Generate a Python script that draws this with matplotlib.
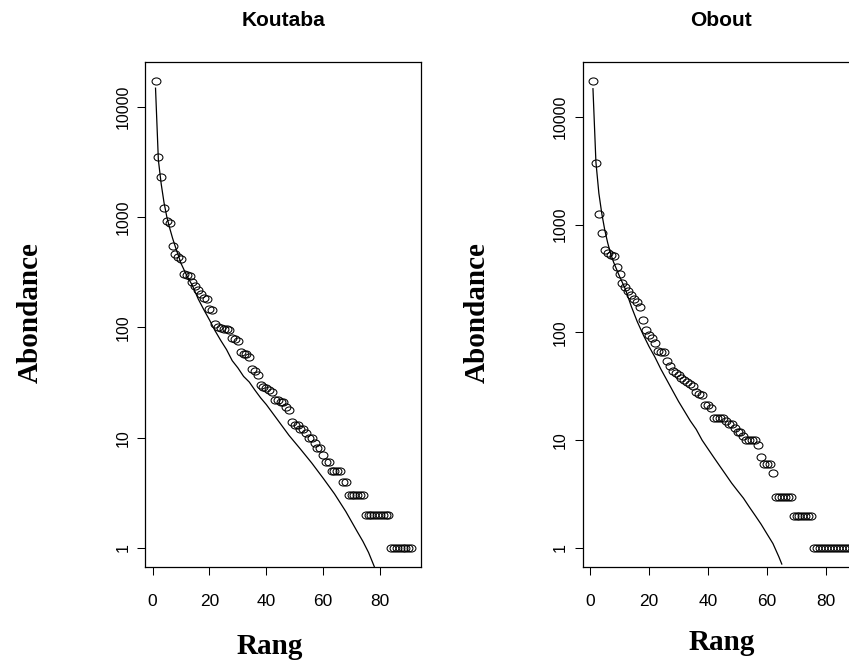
import numpy as np
import matplotlib
matplotlib.use("Agg")
import matplotlib.pyplot as plt
from matplotlib.path import Path
from matplotlib.transforms import Affine2D

koutaba_abund = [17300, 3500, 2300, 1200, 920, 880, 545, 460, 437, 420,
                 305, 300, 293, 260, 240, 218, 200, 186, 182, 148,
                 145, 107, 101, 98, 97, 96, 95, 80, 78, 76,
                 60, 58, 57, 54, 42, 40, 37, 30, 29, 28,
                 27, 26, 22, 22, 21, 21, 19, 18, 14, 13,
                 13, 12, 12, 11, 10, 10, 9, 8, 8, 7,
                 6, 6, 5, 5, 5, 5, 4, 4, 3, 3,
                 3, 3, 3, 3, 2, 2, 2, 2, 2, 2,
                 2, 2, 2, 1, 1, 1, 1, 1, 1, 1, 1]
obout_abund = [21600, 3700, 1250, 830, 580, 545, 525, 510, 405, 350,
               288, 264, 240, 221, 206, 192, 171, 131, 106, 95,
               88, 80, 67, 66, 66, 54, 49, 44, 42, 40,
               38, 36, 35, 33, 32, 28, 27, 26, 21, 21,
               20, 16, 16, 16, 16, 15, 14, 14, 13, 12,
               12, 11, 10, 10, 10, 10, 9, 7, 6, 6,
               6, 5, 3, 3, 3, 3, 3, 3, 2, 2,
               2, 2, 2, 2, 2, 1, 1, 1, 1, 1,
               1, 1, 1, 1, 1, 1, 1, 1]

# courbes ajustees (modele)
koutaba_fit_rank = [1, 2, 3, 4, 5, 6, 7, 8, 10, 12, 14, 16, 18, 20, 22, 24, 26, 28,
                    30, 32, 34, 36, 38, 40, 44, 48, 52, 56, 60, 64, 68, 72, 74, 76, 78]
koutaba_fit = [14800, 3300, 2000, 1350, 1000, 795, 645, 537, 380, 295, 240, 182,
               145, 117, 93, 76, 63, 50, 43, 36, 32, 27, 23, 20, 14.5, 10.5,
               7.9, 5.9, 4.3, 3.1, 2.14, 1.41, 1.15, 0.91, 0.68]
obout_fit_rank = [1, 2, 3, 4, 5, 6, 7, 8, 10, 12, 14, 16, 18, 20, 22, 24, 26, 28, 30,
                  32, 34, 36, 38, 40, 42, 44, 46, 48, 50, 52, 54, 56, 58, 60, 62, 64, 65]
obout_fit = [18200, 3800, 1950, 1260, 890, 675, 537, 447, 331, 251, 174, 126,
             95.5, 74, 59, 45.7, 36.3, 28.8, 22.9, 18.6, 15.1, 12.6, 10, 8.3,
             6.9, 5.75, 4.8, 4.0, 3.4, 2.9, 2.4, 2.0, 1.66, 1.35, 1.1, 0.83, 0.71]

titles = ["Koutaba", "Obout"]
xticks = [0, 20, 40, 60, 80]
yticks = [1, 10, 100, 1000, 10000]
ytick_labels = ["1", "10", "100", "1000", "10000"]

sans = ["Liberation Sans", "DejaVu Sans"]
serif = ["Liberation Serif", "DejaVu Serif"]

# cercle un peu aplati comme sur l'image d'origine
oval = Path.unit_circle().transformed(Affine2D().scale(1.0, 0.8))

fig = plt.figure(figsize=(8.49, 6.67), dpi=100)
H = 667.0
W = 849.0
boxes = [(145.3, 421.4), (582.7, 859.9)]
top_px, bot_px = 62.0, 566.7
ylab_off = [115, 105]
rang_pos = [(270, 647), (722, 643)]

data = [(koutaba_abund, koutaba_fit_rank, koutaba_fit),
        (obout_abund, obout_fit_rank, obout_fit)]

for i, (abund, frank, fit) in enumerate(data):
    x0, x1 = boxes[i]
    ax = fig.add_axes([x0 / W, (H - bot_px) / H, (x1 - x0) / W, (bot_px - top_px) / H])
    ranks = np.arange(1, len(abund) + 1)
    ax.plot(frank, fit, color="black", lw=0.9)
    ax.plot(ranks, abund, linestyle="none", marker=oval, ms=6.4,
            mfc="none", mec="black", mew=0.75)
    ax.set_yscale("log")
    lo, hi = np.log10(min(abund)), np.log10(max(abund))
    d = 0.04 * (hi - lo)
    ax.set_ylim(10 ** (lo - d), 10 ** (hi + d))
    n = len(abund)
    ax.set_xlim(1 - 0.04 * (n - 1), n + 0.04 * (n - 1))
    ax.set_xticks(xticks)
    ax.set_xticklabels([str(t) for t in xticks], family=sans, fontsize=12.5)
    ax.set_yticks(yticks)
    ax.set_yticklabels(ytick_labels, family=sans, fontsize=11.5,
                       rotation=90, va="center")
    ax.minorticks_off()
    ax.tick_params(axis="both", direction="out", length=5.5, width=0.75, color="black")
    ax.tick_params(axis="x", pad=14)
    ax.tick_params(axis="y", pad=5)
    for s in ax.spines.values():
        s.set_linewidth(0.9)
    xc = (x0 + x1) / 2 / W
    fig.text(xc, 1 - 20 / H, titles[i], ha="center", va="center",
             family=sans, fontweight="bold", fontsize=15)
    rx, ry = rang_pos[i]
    fig.text(rx / W, 1 - ry / H, "Rang", ha="center", va="center",
             family=serif, fontweight="bold", fontsize=21)
    fig.text((x0 - ylab_off[i]) / W, 1 - 313 / H, "Abondance", ha="center", va="center",
             rotation=90, family=serif, fontweight="bold", fontsize=21)

fig.savefig("out.png", dpi=100)
